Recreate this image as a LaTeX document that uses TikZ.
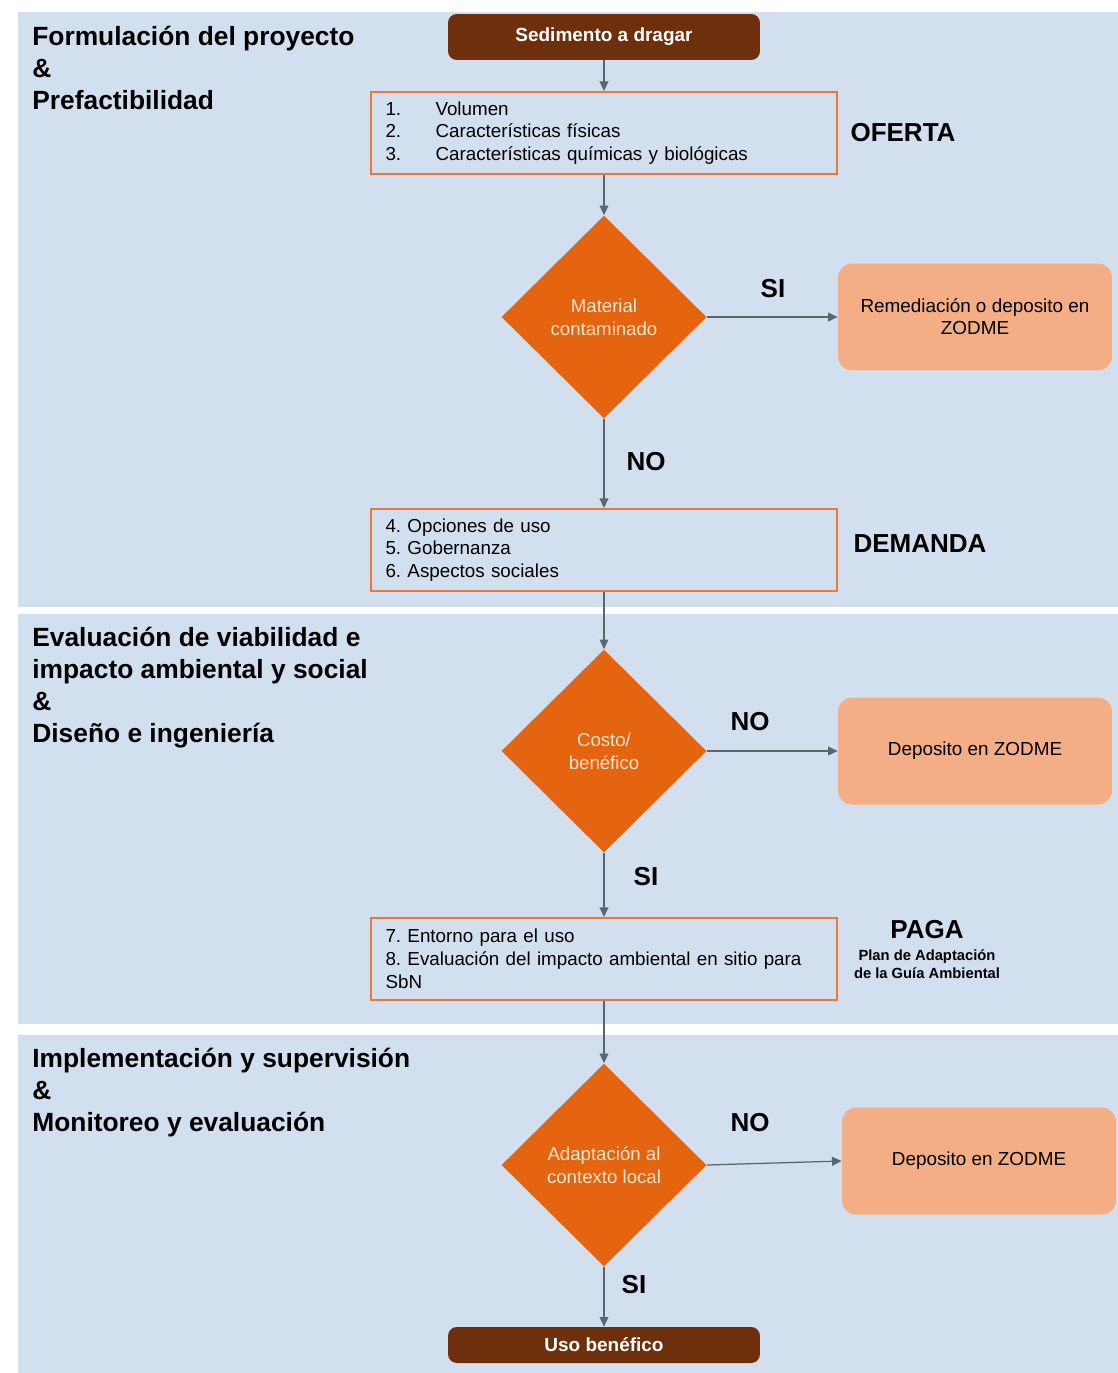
\documentclass[tikz,border=0pt]{standalone}
\usepackage{fontspec}
\setmainfont{Liberation Sans}
\usetikzlibrary{positioning, arrows.meta, shapes.geometric}
\definecolor{panelblue}{HTML}{D2DFEE}
\definecolor{boxorange}{HTML}{E9783A}
\definecolor{diamondorange}{HTML}{E5640F}
\definecolor{diamondtext}{HTML}{FBE6D2}
\definecolor{salmon}{HTML}{F4AE85}
\definecolor{darkbrown}{HTML}{6E2F0C}
\definecolor{linegray}{HTML}{5A6570}
\frenchspacing

\tikzset{
  phase/.style={font=\fontsize{15}{18.1}\selectfont\bfseries, align=left,
                anchor=north west, inner sep=0pt},
  terminal/.style={rectangle, rounded corners=5pt, fill=darkbrown, text=white,
                   minimum width=6.24cm, font=\fontsize{10.8}{12}\selectfont\bfseries},
  listbox/.style={rectangle, draw=boxorange, line width=1.1pt, fill=panelblue,
                  minimum width=9.34cm, minimum height=1.64cm, text width=8.74cm,
                  inner xsep=0.3cm, align=left, font=\fontsize{10.7}{13}\selectfont},
  decision/.style={diamond, fill=diamondorange, text=diamondtext, inner sep=0pt,
                   minimum width=4.1cm, minimum height=4.06cm, align=center,
                   font=\fontsize{10.6}{13}\selectfont},
  outcome/.style={rectangle, rounded corners=8pt, fill=salmon, minimum width=5.48cm,
                  minimum height=2.14cm, align=center, font=\fontsize{10.75}{12.6}\selectfont},
  tag/.style={font=\fontsize{14.8}{16}\selectfont\bfseries, inner sep=0pt},
  flow/.style={draw=linegray, line width=0.7pt, -{Triangle[length=5.5pt,width=5pt]}}
}

\begin{document}
\begin{tikzpicture}[x=0.02cm, y=-0.02cm]
  % page and phase panels
  \fill[white] (0,0) rectangle (1118,1373);
  \fill[panelblue] (18,12) rectangle (1118,607);
  \fill[panelblue] (18,614) rectangle (1118,1024);
  \fill[panelblue] (18,1035) rectangle (1118,1373);

  % phase headings
  \node[phase] (fase1) at (32,26) {Formulación del proyecto\\\&\\Prefactibilidad};
  \node[phase] (fase2) at (32,627) {Evaluación de viabilidad e\\impacto ambiental y social\\\&\\Diseño e ingeniería};
  \node[phase] (fase3) at (32,1048) {Implementación y supervisión\\\&\\Monitoreo y evaluación};

  % main column
  \node[terminal, minimum height=0.92cm] (sedimento) at (604,37) {Sedimento a dragar};
  \node[listbox] (oferta) at (604,133)
    {\makebox[1cm][l]{1.}Volumen\\
     \makebox[1cm][l]{2.}Características físicas\\
     \makebox[1cm][l]{3.}Características químicas y biológicas};
  \node[decision] (contaminado) at (604,317) {Material\\contaminado};
  \node[listbox] (demanda) at (604,550)
    {4. Opciones de uso\\5. Gobernanza\\6. Aspectos sociales};
  \node[decision] (costo) at (604,751) {Costo/\\benéfico};
  \node[listbox] (paga) at (604,959)
    {7. Entorno para el uso\\8. Evaluación del impacto ambiental en sitio para\\SbN};
  \node[decision] (adaptacion) at (604,1165) {Adaptación al\\contexto local};
  \node[terminal, minimum height=0.72cm] (uso) at (604,1345) {Uso benéfico};

  % side outcomes
  \node[outcome] (remediacion) at (975,317) {Remediación o deposito en\\ZODME};
  \node[outcome] (zodmeA) at (975,751) {Deposito en ZODME};
  \node[outcome] (zodmeB) at (979,1161) {Deposito en ZODME};

  % right-hand tags
  \node[tag] (tagoferta) at (903,133) {OFERTA};
  \node[tag] (tagdemanda) at (920,544) {DEMANDA};
  \node[tag] (tagpaga) at (927,930) {PAGA};
  \node[font=\fontsize{8.4}{10}\selectfont\bfseries, align=center, inner sep=0pt]
    (plan) at (927,964) {Plan de Adaptación\\de la Guía Ambiental};

  % connectors
  \draw[flow] (sedimento.south) -- (oferta.north);
  \draw[flow] (oferta.south) -- (contaminado.north);
  \draw[flow] (contaminado.east) -- (remediacion.west);
  \draw[flow] (contaminado.south) -- (demanda.north);
  \draw[flow] (demanda.south) -- (costo.north);
  \draw[flow] (costo.east) -- (zodmeA.west);
  \draw[flow] (costo.south) -- (paga.north);
  \draw[flow] (paga.south) -- (adaptacion.north);
  \draw[flow] (adaptacion.east) -- (zodmeB.west);
  \draw[flow] (adaptacion.south) -- (uso.north);

  % branch labels
  \node[tag] (si1) at (773,289) {SI};
  \node[tag] (no1) at (646,462) {NO};
  \node[tag] (no2) at (750,722) {NO};
  \node[tag] (si2) at (646,877) {SI};
  \node[tag] (no3) at (750,1123) {NO};
  \node[tag] (si3) at (634,1285) {SI};
\end{tikzpicture}
\end{document}
